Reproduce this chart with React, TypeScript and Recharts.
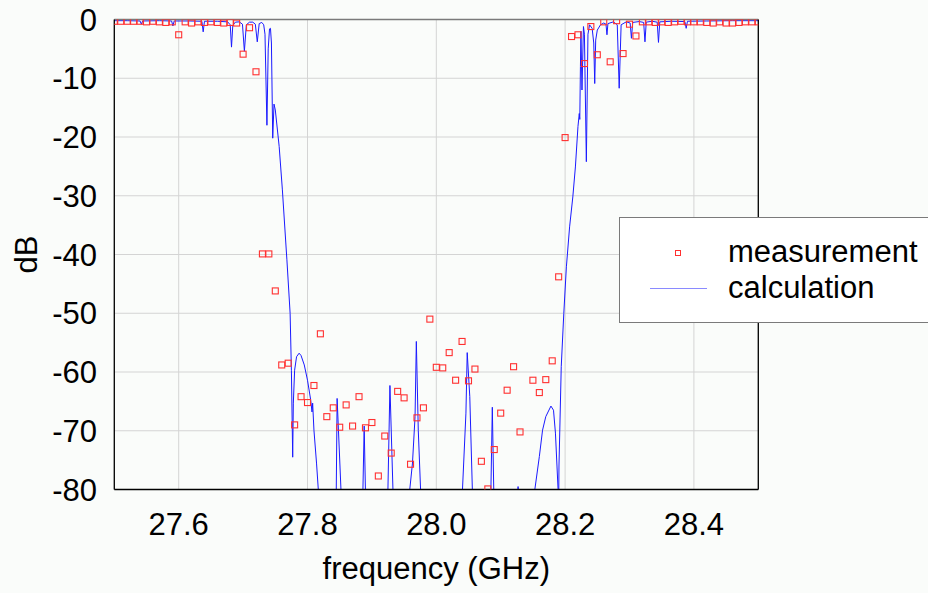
import React from 'react';
import { ComposedChart, Line, Scatter, XAxis, YAxis, CartesianGrid } from 'recharts';

const measFreq = [
  27.50, 27.51, 27.52, 27.53, 27.54, 27.55, 27.56, 27.57, 27.58, 27.59,
  27.60, 27.61, 27.62, 27.63, 27.64, 27.65, 27.66, 27.67, 27.68, 27.69,
  27.70, 27.71, 27.72, 27.73, 27.74, 27.75, 27.76, 27.77, 27.78, 27.79,
  27.80, 27.81, 27.82, 27.83, 27.84, 27.85, 27.86, 27.87, 27.88, 27.89,
  27.90, 27.91, 27.92, 27.93, 27.94, 27.95, 27.96, 27.97, 27.98, 27.99,
  28.00, 28.01, 28.02, 28.03, 28.04, 28.05, 28.06, 28.07, 28.08, 28.09,
  28.10, 28.11, 28.12, 28.13, 28.15, 28.16, 28.17, 28.18, 28.19,
  28.20, 28.21, 28.22, 28.23, 28.24, 28.25, 28.26, 28.27, 28.28, 28.29,
  28.30, 28.31, 28.32, 28.33, 28.34, 28.35, 28.36, 28.37, 28.38, 28.39,
  28.40, 28.41, 28.42, 28.43, 28.44, 28.45, 28.46, 28.47, 28.48, 28.49, 28.50,
];
const measDb = [
  -0.3, -0.3, -0.3, -0.3, -0.3, -0.4, -0.3, -0.4, -0.5, -0.4,
  -2.6, -0.4, -0.6, -0.4, -0.5, -0.4, -0.5, -0.6, -0.5, -0.6,
  -5.9, -1.4, -8.9, -39.9, -39.9, -46.2, -58.8, -58.5, -69.0, -64.2,
  -65.2, -62.3, -53.5, -67.6, -66.1, -69.4, -65.6, -69.2, -64.2, -69.5,
  -68.6, -77.7, -70.9, -73.8, -63.3, -64.4, -75.7, -67.8, -66.1, -51.0,
  -59.2, -59.3, -56.7, -61.4, -54.8, -61.5, -59.5, -75.2, -79.9, -73.2,
  -67.0, -63.1, -59.1, -70.2, -61.4, -63.5, -61.3, -58.1, -43.8,
  -20.1, -2.9, -2.6, -7.5, -1.2, -6.0, -0.4, -7.2, -0.2, -5.8,
  -0.8, -2.8, -0.4, -0.4, -0.5, -0.4, -0.5, -0.4, -0.3, -0.4,
  -0.4, -0.4, -0.5, -0.6, -0.4, -0.6, -0.6, -0.5, -0.4, -0.4, -0.4,
];

const calcFreq = [
  27.500, 27.520, 27.540, 27.542, 27.544, 27.570, 27.589, 27.591, 27.593, 27.615,
  27.636, 27.638, 27.640, 27.660, 27.676, 27.680, 27.682, 27.684, 27.688, 27.694,
  27.699, 27.702, 27.705, 27.710, 27.715, 27.719, 27.722, 27.725, 27.729, 27.732,
  27.734, 27.737, 27.739, 27.741, 27.7425, 27.744, 27.746, 27.748, 27.750, 27.756,
  27.761, 27.768, 27.773, 27.775, 27.777, 27.778, 27.780, 27.783, 27.787, 27.790,
  27.795, 27.800, 27.805, 27.807, 27.808, 27.810, 27.814, 27.818, 27.822, 27.835,
  27.844, 27.846, 27.8535, 27.870, 27.885, 27.888, 27.891, 27.908, 27.924, 27.928,
  27.934, 27.945, 27.956, 27.963, 27.967, 27.969, 27.972, 27.977, 28.000, 28.039,
  28.046, 28.048, 28.052, 28.057, 28.070, 28.084, 28.087, 28.090, 28.110, 28.126,
  28.127, 28.128, 28.140, 28.151, 28.153, 28.160, 28.165, 28.170, 28.178, 28.182,
  28.185, 28.189, 28.1895, 28.1905, 28.194, 28.198, 28.202, 28.207, 28.212, 28.216,
  28.220, 28.222, 28.2228, 28.2238, 28.2246, 28.2262, 28.2285, 28.2300, 28.2330, 28.2355,
  28.238, 28.242, 28.2445, 28.246, 28.2475, 28.250, 28.255, 28.260, 28.2635, 28.265,
  28.2665, 28.275, 28.281, 28.284, 28.287, 28.295, 28.301, 28.303, 28.305, 28.315,
  28.322, 28.324, 28.326, 28.335, 28.343, 28.345, 28.347, 28.365, 28.386, 28.388,
  28.390, 28.420, 28.460, 28.500,
];
const calcDb = [
  -0.2, -0.2, -0.25, -0.8, -0.25, -0.2, -0.25, -1.1, -0.25, -0.25,
  -0.3, -2.1, -0.3, -0.3, -0.4, -0.9, -4.7, -1.0, -0.45, -0.4,
  -0.8, -5.4, -0.9, -0.45, -0.45, -0.8, -3.8, -0.7, -0.5, -0.9,
  -2.5, -18.0, -5.0, -1.6, -1.5, -4.0, -20.2, -14.4, -15.4, -21.6,
  -29.0, -40.9, -50.0, -59.7, -74.5, -65.3, -59.7, -57.4, -56.8, -57.2,
  -58.8, -61.4, -64.8, -66.8, -65.3, -69.9, -75.5, -82.0, -88.0, -95.0,
  -88.0, -64.5, -84.0, -95.0, -86.0, -69.2, -86.0, -95.0, -85.0, -62.3,
  -85.0, -95.0, -83.0, -75.5, -67.6, -54.8, -69.9, -84.0, -95.0, -84.0,
  -67.0, -56.7, -64.2, -84.0, -95.0, -85.0, -66.0, -85.0, -95.0, -82.0,
  -79.5, -82.0, -95.0, -85.0, -80.0, -74.4, -69.9, -67.6, -65.8, -66.5,
  -70.4, -79.8, -90.0, -76.0, -59.1, -50.0, -42.1, -35.3, -30.2, -25.1,
  -18.2, -16.0, -17.0, -8.0, -2.0, -12.0, -1.2, -2.5, -24.2, -2.5,
  -0.9, -1.5, -4.0, -10.9, -3.5, -1.8, -0.9, -0.6, -0.8, -2.6,
  -0.7, -0.4, -0.9, -11.7, -0.9, -0.4, -0.6, -3.2, -0.5, -0.35,
  -0.5, -3.8, -0.45, -0.3, -0.45, -3.9, -0.4, -0.3, -0.35, -1.5,
  -0.3, -0.25, -0.2, -0.2,
];

const xMajorTicks = [27.6, 27.8, 28.0, 28.2, 28.4];
const xMinorTicks = [27.5, 27.6, 27.7, 27.8, 27.9, 28.0, 28.1, 28.2, 28.3, 28.4, 28.5];
const yMajorTicks = [-80, -70, -60, -50, -40, -30, -20, -10, 0];
const yMinorTicks = [
  -80, -77.5, -75, -72.5, -70, -67.5, -65, -62.5, -60, -57.5, -55, -52.5, -50, -47.5,
  -45, -42.5, -40, -37.5, -35, -32.5, -30, -27.5, -25, -22.5, -20, -17.5, -15, -12.5,
  -10, -7.5, -5, -2.5, 0,
];

const measData = measFreq.map((f, i) => ({ x: f, y: measDb[i] }));
const calcData = calcFreq.map((f, i) => ({ x: f, y: calcDb[i] }));

const FONT = "'Liberation Sans', Arial, Helvetica, sans-serif";
const RED = '#ff3030';
const BLUE = '#1a1aff';

const Square = (props: any) => {
  const { cx, cy } = props;
  if (cx == null || cy == null || isNaN(cx) || isNaN(cy)) return null;
  return <rect x={cx - 3} y={cy - 3} width={6} height={6} fill="none" stroke={RED} strokeWidth={1.1} />;
};

const Nothing = () => <g />;

const XLabel = (props: any) => {
  const vb = props.viewBox || {};
  return (
    <text x={vb.x + vb.width / 2} y={vb.y + 88.5} textAnchor="middle" fontSize={31} fontFamily={FONT} fill="#000">
      frequency (GHz)
    </text>
  );
};

const YLabel = (props: any) => {
  const vb = props.viewBox || {};
  const cx = vb.x + 37;
  const cy = vb.y + vb.height / 2;
  return (
    <text x={cx} y={cy} transform={`rotate(-90, ${cx}, ${cy})`} textAnchor="middle" fontSize={31} fontFamily={FONT} fill="#000">
      dB
    </text>
  );
};

export default function App() {
  return (
    <div style={{ position: 'absolute', left: 0, top: 0, width: 928, height: 593, background: '#fafcfa', overflow: 'hidden', fontFamily: FONT }}>
      <ComposedChart width={928} height={593} margin={{ top: 18.5, right: 168.7, bottom: 23.5, left: 0 }}>
        <CartesianGrid xAxisId="b2" yAxisId="b2" stroke="#d4d4d4" strokeWidth={1} />
        <XAxis xAxisId="b2" orientation="bottom" type="number" dataKey="x" domain={[27.5, 28.5]} allowDataOverflow
          ticks={xMajorTicks} tickFormatter={(v: number) => v.toFixed(1)} height={79} axisLine={false} tickLine={false}
          tickSize={0} tickMargin={22.5} tick={{ fontSize: 31, fill: '#000', fontFamily: FONT }} label={<XLabel />} />
        <XAxis xAxisId="a1" orientation="bottom" type="number" dataKey="x" domain={[27.5, 28.5]} allowDataOverflow
          ticks={xMinorTicks} tick={false} tickSize={5} height={1} axisLine={{ stroke: '#000', strokeWidth: 1.3 }} tickLine={{ stroke: '#000' }} />
        <XAxis xAxisId="top" orientation="top" type="number" dataKey="x" domain={[27.5, 28.5]} allowDataOverflow
          ticks={xMinorTicks} tick={false} tickSize={5} height={1} axisLine={{ stroke: '#7a7a7a', strokeWidth: 1.7 }} tickLine={{ stroke: '#555' }} />
        <YAxis yAxisId="b2" orientation="left" type="number" domain={[-80, 0]} allowDataOverflow
          ticks={yMajorTicks} width={113.3} axisLine={false} tickLine={false} tickSize={0} tickMargin={16.3}
          tick={{ fontSize: 31, fill: '#000', fontFamily: FONT }} label={<YLabel />} />
        <YAxis yAxisId="a1" orientation="left" type="number" domain={[-80, 0]} allowDataOverflow
          ticks={yMinorTicks} tick={false} tickSize={5} width={1} axisLine={{ stroke: '#000', strokeWidth: 1.3 }} tickLine={{ stroke: '#000' }} />
        <YAxis yAxisId="right" orientation="right" type="number" domain={[-80, 0]} allowDataOverflow
          ticks={yMinorTicks} tick={false} tickSize={-5} width={1} axisLine={{ stroke: '#000', strokeWidth: 1.3 }} tickLine={{ stroke: '#000' }} />
        <Scatter xAxisId="a1" yAxisId="a1" data={measData} dataKey="y" shape={<Nothing />} legendType="none" isAnimationActive={false} />
        <Scatter xAxisId="top" yAxisId="right" data={measData} dataKey="y" shape={<Nothing />} legendType="none" isAnimationActive={false} />
        <Line xAxisId="b2" yAxisId="b2" data={calcData} dataKey="y" type="linear" stroke={BLUE} strokeWidth={1}
          dot={false} activeDot={false} isAnimationActive={false} />
        <Scatter xAxisId="b2" yAxisId="b2" data={measData} dataKey="y" shape={<Square />} isAnimationActive={false} />
      </ComposedChart>
      <div style={{ position: 'absolute', left: 619, top: 217, width: 330, height: 106, border: '1px solid #7a7a7a', background: '#ffffff', boxSizing: 'border-box' }}>
        <div style={{ position: 'absolute', left: 55, top: 32, width: 6, height: 6, border: `1px solid ${RED}`, boxSizing: 'border-box' }} />
        <div style={{ position: 'absolute', left: 30, top: 70, width: 57, height: 1, background: '#8a8aff' }} />
        <div style={{ position: 'absolute', left: 108, top: 16, fontSize: 31, lineHeight: '36px', color: '#000', whiteSpace: 'nowrap' }}>measurement</div>
        <div style={{ position: 'absolute', left: 108, top: 52, fontSize: 31, lineHeight: '36px', color: '#000', whiteSpace: 'nowrap' }}>calculation</div>
      </div>
    </div>
  );
}
